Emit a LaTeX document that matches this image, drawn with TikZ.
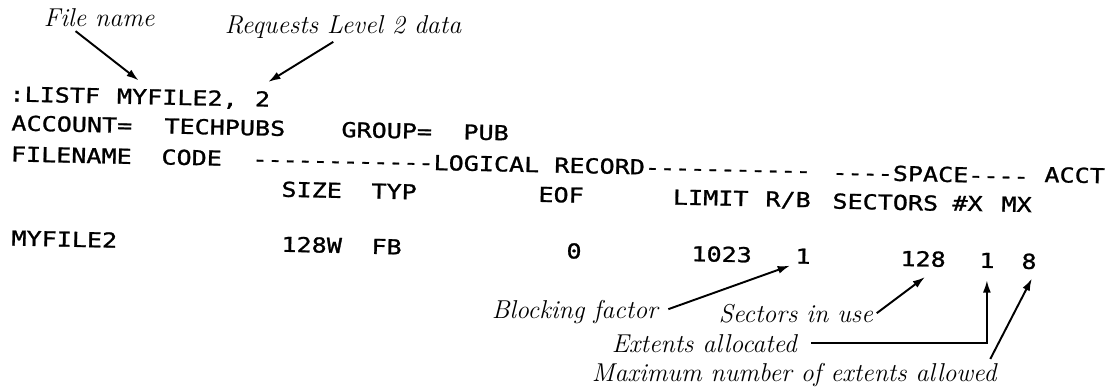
\documentclass[tikz,border=0pt]{standalone}
\usepackage{fontspec}
\setmonofont{DejaVu Sans Mono}[FakeStretch=1.22,FakeBold=1.2]
\usetikzlibrary{arrows.meta,calc}
\begin{document}
\begin{tikzpicture}[x=0.02cm,y=0.02cm,
  tt/.style={font=\ttfamily\fontsize{11.7}{14}\selectfont,anchor=base west,inner sep=0pt,rotate=-1.2},
  note/.style={font=\fontsize{14.7}{17}\selectfont\itshape,anchor=base west,inner sep=2pt},
  pointer/.style={-{Latex[length=7pt,width=4.5pt]},line width=1.1pt}]
\useasboundingbox (0,0) rectangle (1120,-392);
% command line
\node[tt] (cmd) at (9,-101.4) {:LISTF};
\node[tt] (fname) at (116.5,-103.6) {MYFILE2,};
\node[tt] (lvl) at (254.5,-106.3) {2};
% account line
\node[tt] (acclbl) at (11,-130.4) {ACCOUNT=};
\node[tt] (acct) at (164,-133.4) {TECHPUBS};
\node[tt] (grplbl) at (341,-137) {GROUP=};
\node[tt] (grp) at (463,-139.4) {PUB};
% headings
\node[tt] (fnhdr) at (10.5,-161.4) {FILENAME};
\node[tt] (codehdr) at (161,-164.4) {CODE};
\node[tt] (loghdr) at (252,-166.2) {------------LOGICAL RECORD-----------};
\node[tt] (spchdr) at (832,-179.5) {----SPACE----};
\node[tt] (accthdr) at (1044,-182) {ACCT};
\node[tt] (sizehdr) at (281,-196.7) {SIZE};
\node[tt] (typhdr) at (371,-198.5) {TYP};
\node[tt] (eofhdr) at (538,-201.8) {EOF};
\node[tt] (limhdr) at (672.5,-204.5) {LIMIT};
\node[tt] (rbhdr) at (765,-206.3) {R/B};
\node[tt] (sechdr) at (832,-208.5) {SECTORS};
\node[tt] (nxhdr) at (952,-210.5) {\#X};
\node[tt] (mxhdr) at (1001,-211.5) {MX};
% values
\node[tt] (fnval) at (11,-245.5) {MYFILE2};
\node[tt] (sizeval) at (281,-251.7) {128W};
\node[tt] (typval) at (371,-253.8) {FB};
\node[tt] (eofval) at (566,-258.3) {0};
\node[tt] (limval) at (691,-261.1) {1023};
\node[tt] (rbval) at (795,-263.5) {1};
\node[tt] (secval) at (900,-265.9) {128};
\node[tt] (nxval) at (979,-267.7) {1};
\node[tt] (mxval) at (1021,-268.7) {8};
% notes
\node[note] (fnote) at (40,-27) {File name};
\node[note] (lvlnote) at (221,-33) {Requests Level 2 data};
\node[note] (bfnote) at (488,-318) {Blocking factor};
\node[note] (secnote) at (715,-322) {Sectors in use};
\node[note] (extnote) at (608,-352) {Extents allocated};
\node[note] (maxnote) at (588,-381) {Maximum number of extents allowed};
\draw[pointer] ($(fnote.south west)!.3!(fnote.south east)$) -- ($(fname.north west)!.18!(fname.north east)+(0,8)$);
\draw[pointer] ($(lvlnote.south west)!.46!(lvlnote.south east)$) -- ($(lvl.north)!.7!(lvl.north east)+(0,9)$);
\draw[pointer,shorten <=4pt,shorten >=3pt] (bfnote.east) -- (rbval.south west);
\draw[pointer] (secnote.east) -- ($(secval.south)+(2,-10)$);
\draw[pointer,shorten <=6pt] (extnote.east) -| ($(nxval.south)+(0,-12)$);
\draw[pointer] ($(maxnote.north east)+(-10,0)$) -- ($(mxval.south)+(3,-9)$);
\end{tikzpicture}
\end{document}
